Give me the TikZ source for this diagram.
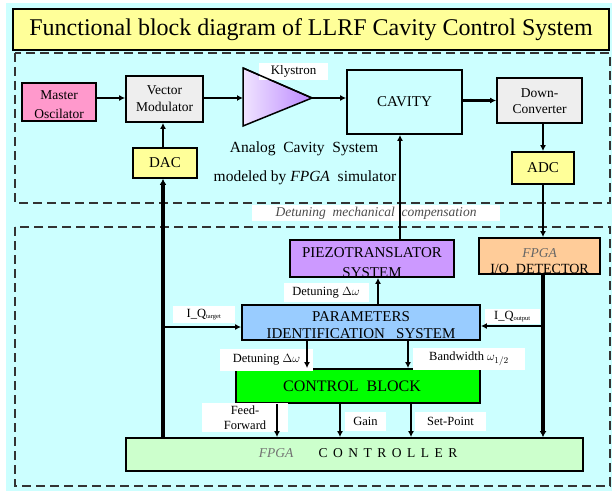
\documentclass[tikz,border=0pt]{standalone}
\usepackage{fontspec}
\setmainfont{Liberation Serif}
\usetikzlibrary{arrows.meta}

\definecolor{bgcyan}{HTML}{CCFFFF}
\definecolor{titleyellow}{HTML}{FFFF99}
\definecolor{oscpink}{HTML}{FF99CC}
\definecolor{boxgray}{HTML}{EEEEEE}
\definecolor{piezopurple}{HTML}{CC99FF}
\definecolor{detpeach}{HTML}{FFCC99}
\definecolor{parblue}{HTML}{99CCFF}
\definecolor{ctrlgreen}{HTML}{00FF00}
\definecolor{fpgagreen}{HTML}{CCFFCC}
\definecolor{klyA}{HTML}{F0E4FF}
\definecolor{klyB}{HTML}{BB88FF}

\begin{document}
\begin{tikzpicture}[x=1pt,y=-1pt,
  blk/.style={draw=black, line width=1.8pt, inner sep=0pt, align=center,
    font=\fontsize{13.5}{15}\selectfont},
  txt/.style={font=\fontsize{13.5}{15}\selectfont},
  captext/.style={font=\fontsize{15}{17}\selectfont},
  lbl/.style={fill=white, inner sep=0pt, align=center,
    font=\fontsize{12.5}{14}\selectfont},
  frame/.style={draw=black!80, line width=1.3pt, dash pattern=on 9pt off 5pt},
  conn/.style={line width=2.4pt, -{Latex[length=6pt,width=6pt]}},
  busarr/.style={line width=3.6pt, -{Latex[length=6pt,width=7pt]}}
]
\useasboundingbox (0,0) rectangle (612,492);
\fill[bgcyan] (6,3) rectangle (612,491);

% heading
\node[draw=black, line width=1.5pt, fill=titleyellow, minimum width=596pt,
  minimum height=41pt, inner sep=0pt, font=\fontsize{24}{27}\selectfont]
  (title) at (311,29.5) {Functional block diagram of LLRF Cavity Control System};

% the two dashed regions
\draw[frame] (15,53) rectangle (610,203);
\draw[frame] (15,227) rectangle (610,486);

% analog part
\node[blk, fill=oscpink, minimum width=74pt, minimum height=38pt] (mo) at (59,102) {};
\node[txt] at (59,95) {Master};
\node[txt] at (59,114) {Oscilator};

\node[blk, fill=boxgray, minimum width=77pt, minimum height=46pt] (vm) at (164.5,99) {};
\node[txt] at (164.5,90) {Vector};
\node[txt] at (164.5,107) {Modulator};

\shade[left color=klyA, right color=klyB, draw=black, line width=1.5pt, line join=miter]
  (243,68) -- (312,98) -- (243,126) -- cycle;
\coordinate (kin) at (243,98);
\coordinate (kout) at (312,98);
\node[fill=white, minimum width=69pt, minimum height=17pt, inner sep=0pt,
  font=\fontsize{13}{14}\selectfont] (klab) at (293.5,71.5) {Klystron};
\draw[black, line width=1.5pt] (243,68) -- (312,98);

\node[blk, fill=bgcyan, minimum width=115pt, minimum height=64pt, captext] (cav) at (404.5,102) {CAVITY};

\node[blk, fill=boxgray, minimum width=85pt, minimum height=45pt] (dc) at (539.5,100.5) {};
\node[txt] at (539.5,93) {Down-};
\node[txt] at (539.5,109) {Converter};

\node[blk, fill=titleyellow, minimum width=64pt, minimum height=30pt,
  font=\fontsize{15}{17}\selectfont] (dac) at (165,163) {DAC};
\node[blk, fill=titleyellow, minimum width=62pt, minimum height=32pt,
  font=\fontsize{15}{17}\selectfont] (adc) at (543,168) {ADC};

\node[font=\fontsize{15.5}{17}\selectfont] (ana1) at (304,149) {Analog\ \ Cavity\ \ System};
\node[font=\fontsize{15.5}{17}\selectfont] (ana2) at (305,178) {modeled by \textit{FPGA}\ \ simulator};

\node[fill=white, minimum width=248pt, minimum height=16pt, inner sep=0pt,
  text=black!70, font=\fontsize{13.5}{15}\selectfont\itshape] (mech) at (376,213)
  {Detuning\ \ mechanical\ \ compensation};

% digital part
\node[blk, fill=piezopurple, minimum width=164pt, minimum height=37pt] (piezo) at (372,258.5) {};
\node[captext] at (372,253) {PIEZOTRANSLATOR};
\begin{scope}
  \clip (291,240) rectangle (453,276);
  \node[captext] at (372,273) {SYSTEM};
\end{scope}

\node[blk, fill=detpeach, minimum width=121pt, minimum height=36pt] (iq) at (539.5,256) {};
\node[text=black!60, font=\fontsize{13.5}{15}\selectfont\itshape] at (539.5,253) {FPGA};
\begin{scope}
  \clip (480,239) rectangle (599,273);
  \node[font=\fontsize{14}{15}\selectfont] at (539.5,270) {I/Q\ \ DETECTOR};
\end{scope}

\node[blk, fill=parblue, minimum width=238pt, minimum height=35pt] (par) at (361,322.5) {};
\node[captext] at (361,317) {PARAMETERS};
\node[captext] at (361,334) {IDENTIFICATION\ \ \ SYSTEM};

\node[blk, fill=ctrlgreen, minimum width=244pt, minimum height=34pt,
  font=\fontsize{16}{18}\selectfont] (cb) at (358,386) {\hspace{-12pt}CONTROL\ \ BLOCK};

\node[blk, fill=fpgagreen, minimum width=457pt, minimum height=33pt] (fc) at (354.5,454.5) {};
\node[text=black!55, font=\fontsize{13.5}{15}\selectfont\itshape] at (276,453) {FPGA};
\node[font=\fontsize{13.5}{15}\selectfont] at (388,453)
  {C\hspace{5.5pt}O\hspace{5.5pt}N\hspace{5.5pt}T\hspace{5.5pt}R\hspace{5.5pt}O\hspace{5.5pt}L\hspace{5.5pt}L\hspace{5.5pt}E\hspace{5.5pt}R};

% signal labels
\node[lbl, minimum width=85pt, minimum height=19pt] (ldet1) at (326,292.5) {Detuning $\Delta\omega$};
\node[lbl, minimum width=62pt, minimum height=17pt] (ltar) at (204,314.5) {I\_Q\textsubscript{\fontsize{6.5}{6}\selectfont target}};
\node[lbl, minimum width=55pt, minimum height=15pt] (lout) at (512.5,316.5) {I\_Q\textsubscript{\fontsize{6.5}{6}\selectfont output}};
\node[lbl, minimum width=93pt, minimum height=22pt] (ldet2) at (266.5,360) {Detuning $\Delta\omega$};
\node[lbl, minimum width=112pt, minimum height=22pt] (lbw) at (469,359) {Bandwidth $\omega_{1/2}$};
\node[lbl, minimum width=86pt, minimum height=29pt,
  font=\fontsize{12.5}{15}\selectfont] (lff) at (245,417.5) {Feed-\\Forward};
\node[lbl, minimum width=41pt, minimum height=19pt] (lgain) at (365.5,421.5) {Gain};
\node[lbl, minimum width=71pt, minimum height=19pt] (lsp) at (450.5,421.5) {Set-Point};

% signal columns
\coordinate (cdac) at (163,0);
\coordinate (ciq) at (543,0);
\coordinate (cpz) at (378,0);
\coordinate (ccav) at (400,0);
\coordinate (cdet) at (307,0);
\coordinate (cbw) at (408,0);
\coordinate (cff) at (277,0);
\coordinate (cgain) at (340,0);
\coordinate (csp) at (411,0);

% analog chain
\draw[conn] ([yshift=4pt]mo.east) -- ([yshift=4pt]mo.east -| vm.west);
\draw[conn] (vm.east |- kin) -- (kin);
\draw[conn] (kout) -- (kout -| cav.west);
\draw[conn] (dc.west -| cav.east) -- (dc.west);
\draw[conn] (dc.south -| adc.north) -- (adc.north);
\draw[conn] (cdac |- dac.north) -- (cdac |- vm.south);

% digital buses
\draw[busarr] (cdac |- fc.north) -- (cdac |- dac.south);
\draw[conn] (cdac |- 0,327) -- (par.west |- 0,327);
\draw[conn] (ciq |- adc.south) -- (ciq |- iq.north);
\draw[busarr] (ciq |- iq.south) -- (ciq |- fc.north);
\draw[conn] (ciq |- 0,326) -- (par.east |- 0,326);

% detuning loop and parameter outputs
\draw[conn] (cpz |- par.north) -- (cpz |- piezo.south);
\draw[conn] (ccav |- piezo.north) -- (ccav |- cav.south);
\draw[conn] (cdet |- par.south) -- (cdet |- cb.north);
\draw[conn] (cbw |- par.south) -- (cbw |- cb.north);
\draw[conn] (cff |- cb.south) -- (cff |- fc.north);
\draw[conn] (cgain |- cb.south) -- (cgain |- fc.north);
\draw[conn] (csp |- cb.south) -- (csp |- fc.north);
\end{tikzpicture}
\end{document}
